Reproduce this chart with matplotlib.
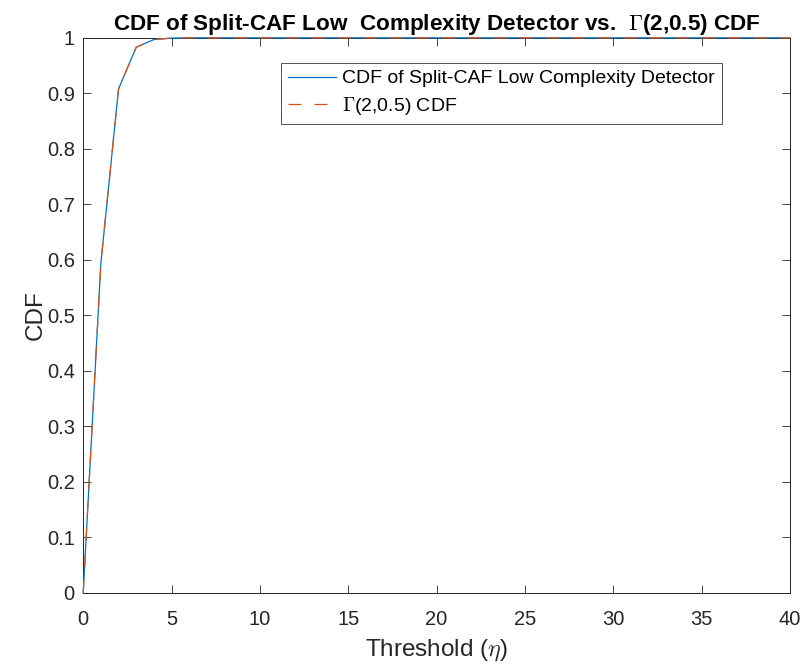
import matplotlib
matplotlib.use("Agg")
import matplotlib.pyplot as plt

# threshold grid and CDF values
threshold = list(range(0, 41))
cdf_split_caf = [0.0, 0.594, 0.908, 0.983, 0.997, 0.9995] + [1.0] * 35
cdf_gamma = [0.0, 0.594, 0.908, 0.983, 0.997, 0.9995] + [1.0] * 35

x_ticks = list(range(0, 41, 5))
y_ticks = [i / 10 for i in range(11)]

plt.rcParams["font.family"] = ["Liberation Sans", "DejaVu Sans"]
plt.rcParams["mathtext.fontset"] = "cm"

AX_COLOR = "#262626"

fig = plt.figure(figsize=(8.0, 6.64), dpi=100)
ax = fig.add_axes([0.104, 0.107, 0.8835, 0.836])

ax.plot(threshold, cdf_split_caf, color="#0072BD", lw=0.9, zorder=3, clip_on=False,
        label="CDF of Split-CAF Low Complexity Detector")
ax.plot(threshold, cdf_gamma, color="#D95319", lw=0.9, dashes=(10.4, 10.4), zorder=3.1,
        clip_on=False, label=r"$\Gamma$(2,0.5) CDF")

ax.set_xlim(0, 40)
ax.set_ylim(0, 1)
ax.set_xticks(x_ticks)
ax.set_yticks(y_ticks)
ax.set_yticklabels(["0" if v == 0 else ("1" if v == 1 else f"{v:.1f}") for v in y_ticks])
ax.tick_params(direction="in", top=True, right=True, length=6, width=0.6,
               labelsize=14.5, colors=AX_COLOR)
ax.tick_params(axis="x", pad=12)
ax.tick_params(axis="y", pad=6)
for s in ax.spines.values():
    s.set_color(AX_COLOR)
    s.set_linewidth(0.7)

ax.set_xlabel(r"Threshold ($\eta$)", fontsize=17.5, color=AX_COLOR, labelpad=6)
ax.set_ylabel("CDF", fontsize=17.5, color=AX_COLOR, labelpad=0)
ax.set_title(r"CDF of Split-CAF Low  Complexity Detector vs.  $\Gamma$(2,0.5) CDF",
             fontsize=16.2, fontweight="bold", color="black", pad=6)

leg = ax.legend(loc="upper right", bbox_to_anchor=(0.904, 0.955), borderaxespad=0,
                fontsize=14, frameon=True, fancybox=False, edgecolor=AX_COLOR,
                handlelength=2.47, handletextpad=0.31, borderpad=0.36, labelspacing=0.4)
leg.get_frame().set_linewidth(0.7)

fig.savefig("out.png", dpi=100)
